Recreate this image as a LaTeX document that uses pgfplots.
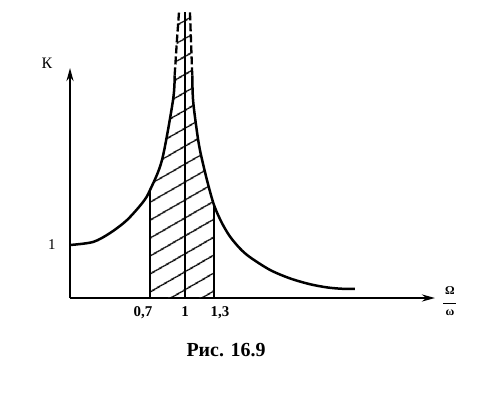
\documentclass[border=0pt]{standalone}
\usepackage{pgfplots}
\pgfplotsset{compat=1.18}
\usepackage{fontspec}
\setmainfont{Liberation Serif}
\usetikzlibrary{patterns.meta,arrows.meta}
\begin{document}
\begin{tikzpicture}[x=1bp,y=1bp]
\path[use as bounding box] (0,0) rectangle (478,397);
\begin{axis}[
  at={(70bp,99bp)}, anchor=south west,
  scale only axis, width=365bp, height=230bp,
  xmin=0, xmax=3.174, ymin=0, ymax=4.34,
  axis lines=left,
  axis line style={line width=2.6bp, -{Stealth[length=13bp,width=7bp]}},
  clip=false,
  xtick={0.635,1,1.304},
  xticklabels={{0,7},{1},{1,3}},
  xticklabel style={font=\bfseries\fontsize{15}{16}\selectfont, yshift=-5bp},
  ytick={1}, yticklabels={1},
  yticklabel style={font=\fontsize{15}{16}\selectfont, xshift=-11bp},
  major tick length=0pt,
]
% hatched region
\addplot[draw=none, pattern={Lines[angle=30,distance=15bp,line width=1.5bp]}] coordinates {
 (0.696,0) (0.696,2.038) (0.8,2.604) (0.896,3.736) (0.930,4.868) (0.948,5.40)
 (1.043,5.40) (1.052,4.868) (1.070,3.736) (1.130,2.792) (1.191,2.226) (1.252,1.755) (1.252,0)} -- cycle;
% boundary lines
\addplot[line width=1.5bp] coordinates {(0.696,0) (0.696,2.038)};
\addplot[line width=1.5bp] coordinates {(1.252,0) (1.252,1.755)};
\addplot[line width=1.5bp] coordinates {(1,0) (1,5.40)};
% left branch (solid)
\addplot[line width=2.5bp, smooth] coordinates {
 (0,1.0) (0.2,1.057) (0.348,1.226) (0.496,1.472) (0.635,1.811) (0.696,2.038)
 (0.8,2.604) (0.896,3.736) (0.91,4.2)};
% right branch (solid)
\addplot[line width=2.5bp, smooth] coordinates {
 (1.063,4.2) (1.070,3.736) (1.10,3.2) (1.130,2.792) (1.191,2.226) (1.252,1.755)
 (1.32,1.42) (1.391,1.16) (1.48,0.93) (1.565,0.77) (1.739,0.53) (1.913,0.37)
 (2.087,0.26) (2.235,0.2) (2.36,0.175) (2.478,0.17)};
% dashed tops
\addplot[line width=2.3bp, dash pattern=on 8bp off 3bp] coordinates {(0.91,4.2) (0.930,4.868) (0.948,5.40)};
\addplot[line width=2.3bp, dash pattern=on 8bp off 3bp] coordinates {(1.063,4.2) (1.052,4.868) (1.043,5.40)};
% labels
\node[font=\fontsize{16}{17}\selectfont] at (axis cs:-0.2,4.43) {К};
\node[font=\bfseries\fontsize{12}{13}\selectfont, inner sep=0pt] at (axis cs:3.304,-0.075)
  {\begin{tabular}{@{}c@{}}Ω\\[-3pt]\rule{13bp}{0.8bp}\\[-2pt]ω\end{tabular}};
\end{axis}
\node[font=\bfseries\fontsize{20}{24}\selectfont] at (226,47) {Рис. 16.9};
\end{tikzpicture}
\end{document}
